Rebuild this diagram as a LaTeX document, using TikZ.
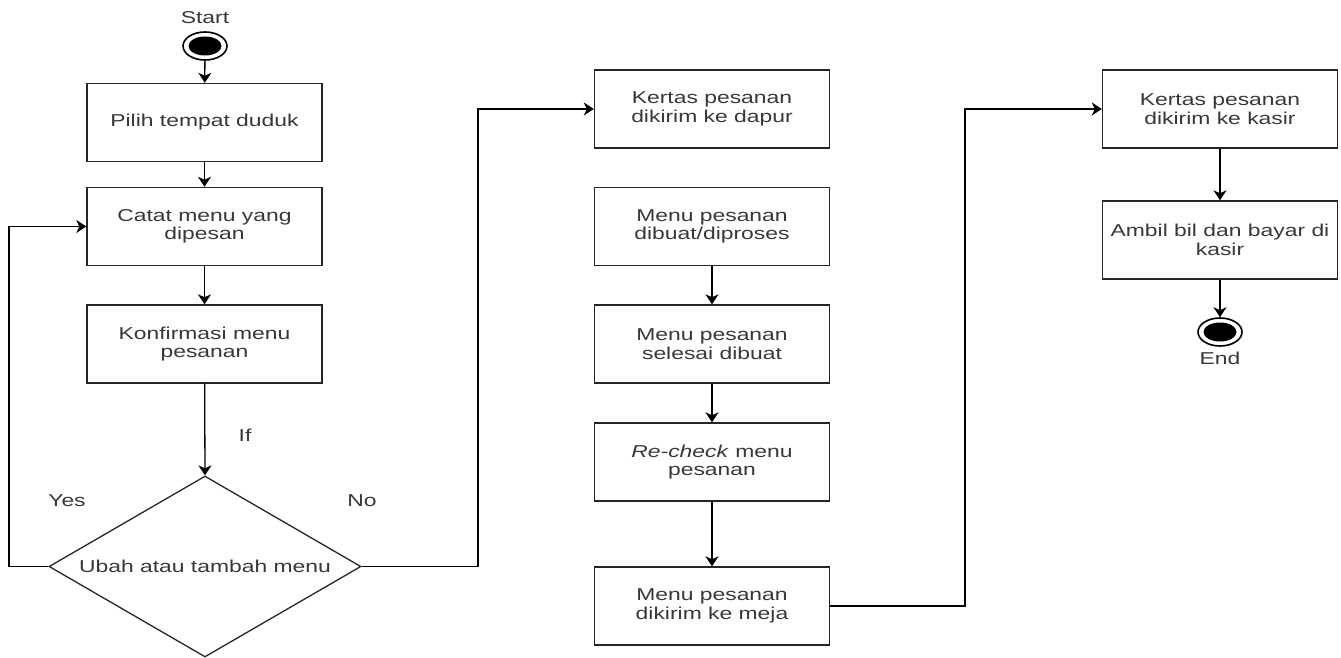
\documentclass[tikz,border=0pt]{standalone}
\usepackage{fontspec}
\setmainfont{Liberation Sans}[FakeStretch=1.33]
\usetikzlibrary{arrows.meta,shapes.geometric}
\newcommand\dfont{\fontsize{17.2}{18.5}\selectfont}
\begin{document}
\begin{tikzpicture}[x=1pt,y=-1pt,
  box/.style={draw=black!85, line width=1.4pt, minimum width=235pt, minimum height=78pt,
    align=center, inner sep=2pt, text=black!78, font=\dfont},
  conn/.style={draw=black, line width=1.3pt, -{Stealth[length=10pt,width=13pt,inset=3pt]}},
  plain/.style={draw=black, line width=1.3pt},
  lbl/.style={text=black!78, font=\dfont, inner sep=0pt},
  term/.style={ellipse, draw=black, line width=1.6pt, fill=white, minimum width=44pt,
    minimum height=28pt, inner sep=0pt}]
\useasboundingbox (0,0) rectangle (1341,658);
\fill[white] (0,0) rectangle (1341,658);

% start
\node[lbl] (startlbl) at (205,18) {Start};
\node[term] (s) at (205,46) {};
\fill[black] (s.center) ellipse [x radius=16.5pt, y radius=9.5pt];

% column 1
\node[box] (b1) at (204.5,122.5) {Pilih tempat duduk};
\node[box] (b2) at (204.5,226.5) {Catat menu yang\\dipesan};
\node[box] (b3) at (204.5,344) {Konfirmasi menu\\pesanan};
\node[diamond, draw=black!85, line width=1.3pt, minimum width=312pt, minimum height=181pt,
  inner sep=0pt] (d) at (205,566.5) {};
\node[lbl] (dtext) at (205,566) {Ubah atau tambah menu};
\node[lbl] (iflbl) at (245,435) {If};
\node[lbl] (yeslbl) at (67,501) {Yes};
\node[lbl] (nolbl) at (362,501) {No};

% column 2
\node[box] (k1) at (712,109) {Kertas pesanan\\dikirim ke dapur};
\node[box] (m1) at (712,226.5) {Menu pesanan\\dibuat/diproses};
\node[box] (m2) at (712,344) {Menu pesanan\\selesai dibuat};
\node[box] (r) at (712,462) {\textit{Re-check} menu\\pesanan};
\node[box] (m4) at (712,606) {Menu pesanan\\dikirim ke meja};

% column 3
\node[box] (kk) at (1220,109) {Kertas pesanan\\dikirim ke kasir};
\node[box] (a) at (1220,240) {Ambil bil dan bayar di\\kasir};
\node[term] (e) at (1220,332) {};
\fill[black] (e.center) ellipse [x radius=16.5pt, y radius=9.5pt];
\node[lbl] (endlbl) at (1220,358) {End};

% connectors
\coordinate (lp) at (9,566.5);
\coordinate (rp) at (478,566.5);
\coordinate (mp) at (965,606);
\draw[conn] (s) -- (b1);
\draw[conn] (b1) -- (b2);
\draw[conn] (b2) -- (b3);
\draw[conn] (b3) -- (d.north);
\draw[conn] (d.west) -- (lp) |- (b2.west);
\draw[conn] (d.east) -- (rp) |- (k1.west);
\draw[conn] (m1) -- (m2);
\draw[conn] (m2) -- (r);
\draw[conn] (r) -- (m4);
\draw[conn] (m4.east) -- (mp) |- (kk.west);
\draw[conn] (kk) -- (a);
\draw[conn] (a) -- (e);
\end{tikzpicture}
\end{document}
